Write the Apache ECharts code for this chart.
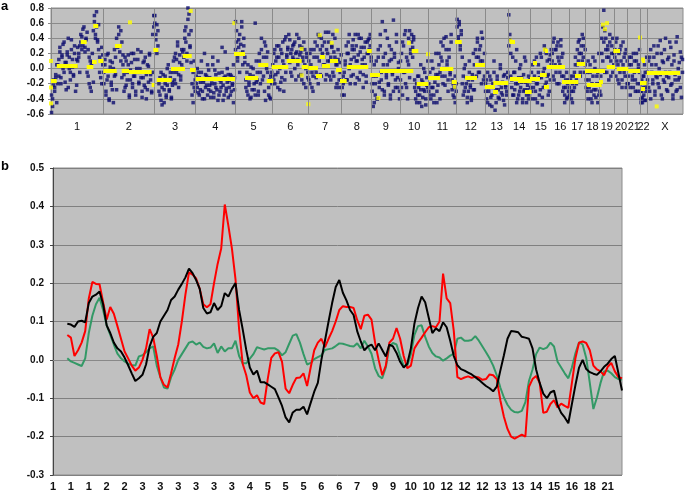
<!DOCTYPE html>
<html><head><meta charset="utf-8">
<script src="https://cdn.jsdelivr.net/npm/echarts@6/dist/echarts.min.js"></script>
<style>html,body{margin:0;padding:0;background:#fff}#c{width:685px;height:494px}</style>
</head><body><div id="c"></div>
<script>
// ---------- Panel a : array CGH probe ratios (hundredths), ordered along each chromosome ----------
const chromNames = ['1','2','3','4','5','6','7','8','9','10','11','12','13','14','15','16','17','18','19','20','21','22','X'];
const chromBounds = [0,52.3,103.3,144.7,184,221.3,257.3,290.7,320.7,349,377.3,405.7,434,457.3,479,500.7,518,534.7,548.3,563.3,576.7,589,596,632];
// probe set A
const c1 = [-58,-40,-22,-30,-12,-45,5,-10,22,-20,15,32,-5,8,-28,18,40,0,-15,25,12,-8,30,3,-22,10,20,-5,35,42,30,55,28,38,48,-10,15,-25,5,20,-18,62,45,75,38,58,15,-12,28,5];
const c2 = [-5,12,-30,-15,20,-40,2,-22,8,-45,-10,15,-28,30,45,22,50,35,18,-8,-25,10,-15,5,-35,-2,20,-20,-10,12,-30,-5,25,-18,0,-12,-38,8,-22,15,-8,-28,3,18,-15,-32,-5,70];
const c3 = [70,45,58,30,-20,-35,-5,-48,-15,-28,-10,-38,-22,5,-30,-12,-40,-18,10,-15,20,-5,35,-25,8,-10,25,0,15,40,55,20,80,72,30,50,-20,-45,10,-30];
const c4 = [-10,-25,-5,-35,-18,10,-30,-15,-40,-8,-22,5,-28,-12,-38,-20,15,-32,-2,-25,-14,-42,-6,-30,-18,28,-22,-35,-10,-26,0,-38,-16,-8,-30,-20,-45,-12];
const c5 = [62,35,10,28,45,20,62,5,30,15,-15,-30,5,-22,-8,-38,-12,0,-28,60,-18,-5,-35,10,-20,25,5,-10,35,-42,15,-5,-25,-38,-10,-20];
const c6 = [5,-15,25,-8,15,-25,30,0,-18,20,10,-30,38,-5,15,25,45,8,20,-10,30,12,35,-15,22,5,40,18,-8,28,10,-20,25,0,15,-12];
const c7 = [10,-20,25,-5,-30,15,0,-12,30,45,10,-8,40,20,5,35,-15,25,10,48,-10,15,30,-5,22,40,5,-20,12,-25,8,-15];
const c8 = [-25,-10,-35,5,-15,20,35,0,-20,12,30,-8,25,45,10,-12,18,40,-5,28,5,-25,15,35,-10,20,38,25,45,15];
const c9 = [-20,-50,5,-35,-10,-40,15,-25,30,-15,62,5,-30,20,-8,40,-20,10,-35,25,-5,64,15,-25,35,-12,8,-30];
const c10 = [10,-25,35,-5,45,-20,15,-40,5,50,20,35,28,42,-15,-30,-45,-10,-25,-35,5,-50,-18,-28,-5,-40,-22,10];
const c11 = [-20,-5,-35,10,-25,-45,-12,20,-30,-8,5,-40,15,-10,30,0,-22,42,10,-15,25,-5,35,-28,-20,-38,-10,-30];
const c12 = [65,42,58,30,50,15,-10,-30,5,-20,-38,-15,10,-25,-42,-8,20,-28,-12,15,35,-5,25,10,-20,40,5,-10];
const c13 = [-20,-40,-5,-30,-48,-15,-35,-25,10,-55,-28,-10,-38,-20,5,-32,-18,-42,-8,-25,-35,-12];
const c14 = [71,38,-10,-25,15,-35,-5,-20,25,-40,-12,-30,5,-18,-45,-8,-28,10,-35,-22,-40,-15];
const c15 = [-15,-30,5,-25,-10,-40,15,-20,-5,-35,20,-12,-48,-25,0,25,-18,10,-8,-30,18,5];
const c16 = [10,35,-15,25,-5,30,15,-20,5,38,-10,20,-25,-35,-15,-40,-20,-30];
const c17 = [-25,-10,-40,-20,-30,-5,15,-15,5,35,20,-10,30,10,40,-5,25];
const c18 = [-15,-30,10,-25,-5,-40,-20,15,-35,0,-28,-10,-45,20];
const c19 = [-20,-35,40,10,77,50,25,-5,30,15,35,-10,20,40,5];
const c20 = [25,35,10,-15,20,-5,30,-25,5,15,-10,25,-20];
const c21 = [-10,15,-25,5,-15,20,-5,-30,10,-20,0,25];
const c22 = [-20,-40,-30,-45,-10,-35,5,-25,-42,15];
const cX = [-5,-25,15,-40,5,-15,30,-30,-10,20,-20,0,37,-35,10,-15,25,-5,-28,12,-12,35,-22,5,-40,18,-8,-30,42,-15,8,-25,15,-5];
// probe set B
const d1 = [-35,-50,-15,-25,-8,5,-20,12,28,-12,18,0,35,-18,8,22,-25,15,-5,38,2,-10,20,-30,12,28,15,30,45,25,52,35,22,40,-5,25,-20,10,-30,8,50,70,40,55,35,25,-5,10,-20,18];
const d2 = [-20,5,-35,18,-10,-42,10,-18,-28,0,25,-8,40,28,55,30,10,-12,5,-30,15,-22,-5,18,-38,-15,8,-25,20,-10,-35,0,12,-20,-5,22,-30,-12,10,-25,-40,5,-18,20,-8,-30,45,55];
const d3 = [60,38,20,50,-30,-12,-42,-25,-8,-45,-20,-35,0,-15,-28,-5,-38,-22,-5,15,-20,12,30,-8,18,-15,5,22,25,50,35,10,65,45,28,8,-35,-5,-25,-15];
const d4 = [-20,0,-32,-12,-28,-5,-40,-18,20,-25,-10,-35,-2,-22,-30,-15,5,-38,-20,-8,-28,10,-35,-15,-25,-5,-42,-12,22,-30,-18,-8,-25,-35,-10,-22,5,-28];
const d5 = [25,50,15,38,-5,32,55,22,40,8,-25,-5,-35,-18,-40,2,-28,-10,-20,-35,10,-15,-30,20,-5,40,-15,15,-30,30,0,22,-35,-15,-40,-5];
const d6 = [-10,20,-20,10,30,-5,15,-28,25,-12,35,5,-15,42,18,28,10,38,-5,25,15,32,0,20,45,12,-10,30,22,-15,15,35,5,-25,20,-5];
const d7 = [-15,20,5,-25,-10,25,35,-5,15,-20,42,25,-10,30,15,5,48,-8,20,35,10,-15,28,45,-10,15,-25,5,25,-15,-5,18];
const d8 = [-35,-20,-5,10,30,-15,20,45,5,-10,25,38,15,-20,30,10,45,-15,22,40,12,-8,28,5,-18,35,20,40,30,10];
const d9 = [-30,-10,-45,-20,10,-40,25,-18,45,-5,-28,15,-35,50,-12,5,-22,30,-40,12,-8,-30,20,-15,45,-25,0,-40];
const d10 = [-15,20,-35,30,-5,50,-25,10,40,-12,25,45,15,38,-25,-40,-20,-35,-10,-45,-28,-15,-38,0,-30,-48,-12,-25];
const d11 = [-30,-12,-40,-25,0,-35,-18,-8,-45,-22,20,-5,35,10,-20,40,-10,25,5,-30,15,-8,45,-15,-35,-25,-45,-20];
const d12 = [55,38,62,25,45,-20,-35,0,-25,-12,-45,-30,-5,-22,-38,-15,-28,5,25,-10,40,15,-5,30,48,10,-15,20];
const d13 = [-30,-15,-45,-25,-10,-38,-50,-20,-5,-32,-45,-15,-28,-40,0,-25,-35,-10,-48,-22,-30,-5];
const d14 = [30,45,20,-15,-35,-5,-28,10,-45,-20,-35,0,-25,-12,-40,-30,15,-18,-45,-28,-10,-35];
const d15 = [-25,-5,-40,-15,10,-30,-20,-45,5,-12,-28,15,-38,-5,30,-22,20,-10,-35,12,-15,25];
const d16 = [20,-10,40,5,25,-20,35,10,-5,30,15,-30,-10,-45,-25,-5,-38,-15];
const d17 = [-35,-15,-30,-45,-10,-25,5,-20,25,10,38,-5,20,45,15,30,5];
const d18 = [-25,-5,-40,-15,5,-30,-45,-10,-28,10,-38,-20,-5,-35];
const d19 = [-30,-10,20,55,35,-5,40,15,25,-15,45,10,30,-5,20];
const d20 = [15,-10,40,5,-20,25,10,-15,35,-5,20,-25,10];
const d21 = [-20,5,-35,15,-10,-25,10,-15,20,-30,5,-5];
const d22 = [-30,-45,-15,-38,-25,-10,-42,-5,-30,-20];
const dX = [-15,10,-30,25,-5,-20,15,-35,5,-12,30,-25,-8,20,-40,8,-18,40,-10,-30,15,-5,28,-20,-35,10,-15,35,-28,0,-12,22,-38,12];
const probeSetA = [c1,c2,c3,c4,c5,c6,c7,c8,c9,c10,c11,c12,c13,c14,c15,c16,c17,c18,c19,c20,c21,c22,cX];
const probeSetB = [d1,d2,d3,d4,d5,d6,d7,d8,d9,d10,d11,d12,d13,d14,d15,d16,d17,d18,d19,d20,d21,d22,dX];

// segmentation means (yellow)
const segStart = [0,5.7,29.7,35.7,41,42.3,47.3,52.3,64,70.7,78,100.7,102.3,105.7,120,131.7,139,144.7,183,194,207.3,215.7,220.7,235.7,250.7,257.3,265,269,271,279,285,289,295.7,315.7,319,329,360.7,365.7,377.3,389,400.7,404,414,424,434,442.3,442,459,459,467,474,479,482,489,493,494,495.7,511,524,525.7,534,535.7,548,555.7,562.3,565.7,577.3,589,591,590,595.7];
const segEnd   = [5.7,26.7,35.7,42.3,45.7,47.3,52.3,65.7,70.7,78,100.7,103.3,107.3,120.7,134,140.7,144.7,184,194,207.3,217.3,222.3,237.3,250.7,257.3,267,271,274,279,287,290.7,295.7,317.3,320.7,329,362.3,367.3,377.3,389,402.3,405.7,410.7,426,434,444,457.3,447,464,472.3,480.7,480.7,489,486,495.7,498,497,514,527.3,530,534,554,550.7,552,564,569,577.3,589,595.7,594,594,629];
const segMean  = [-0.16,0.04,0.35,0.02,0.09,0.565,0.097,-0.03,0.305,-0.03,-0.045,-0.22,0.25,-0.145,0.0,0.17,-0.013,-0.137,0.2,-0.125,0.045,-0.155,0.022,0.106,0.03,0.01,-0.1,0.15,0.04,0.1,-0.02,-0.155,0.03,0.24,-0.08,-0.026,0.23,-0.2,-0.124,0.0,-0.17,0.36,-0.124,0.045,-0.24,-0.19,-0.3,0.35,-0.13,-0.155,-0.3,-0.13,0.08,-0.08,-0.24,0.23,0.02,-0.18,-0.09,0.066,-0.035,-0.21,-0.17,0.022,0.24,0.0,-0.035,-0.19,0.1,-0.27,-0.057];
const yelPtX = [0,0,0,79,139.7,183.3,250.7,250.7,257.3,268.7,280.7,285.7,327.3,358,377,404,459,494,552,554,556,589,605.7,592];
const yelPtY = [0.1,-0.25,-0.46,0.61,0.76,0.6,0.26,-0.09,-0.47,0.44,0.34,0.5,-0.39,0.34,0.19,-0.24,0.37,0.25,0.58,0.52,0.6,0.41,-0.5,0.12];

// ---------- Panel b : smoothed profiles ----------
const tickLabels = ['1','1','1','2','2','3','3','3','3','3','3','4','5','5','5','6','6','7','9','9','10','10','12','12','12','13','13','14','15','16','18','21'];
const sampleOffset = 4;
const blackVals = [.094,.092,.086,.1,.102,.098,.148,.165,.17,.178,
.145,.09,.07,.045,.03,.022,.006,-.014,-.035,-.055,
-.048,-.039,-.012,.035,.06,.07,.1,.115,.13,.156,
.165,.183,.198,.215,.238,.226,.208,.185,.135,.121,
.124,.148,.13,.14,.174,.165,.185,.2,.13,.08,
.026,-.02,-.038,-.028,-.058,-.058,-.064,-.07,-.076,-.098,
-.12,-.15,-.163,-.137,-.13,-.13,-.122,-.142,-.112,-.083,
-.06,0,.05,.1,.148,.19,.208,.175,.155,.13,
.117,.075,.048,.025,.035,.04,.025,.043,.026,.009,
.04,.035,.018,-.005,-.02,-.01,.03,.095,.135,.165,
.15,.11,.07,.082,.075,.098,.085,.05,.01,-.014,
-.024,-.028,-.033,-.038,-.045,-.052,-.06,-.068,-.074,-.082,
-.07,-.028,.012,.055,.075,.074,.072,.06,.058,.055,
.03,-.025,-.06,-.088,-.1,-.085,-.08,-.118,-.138,-.15,
-.165,-.115,-.065,-.02,0,-.024,-.032,-.036,-.039,-.03,
-.018,-.01,.002,.01,-.035,-.08];
const redVals = [.065,.058,.01,.025,.045,.075,.16,.203,.198,.197,
.15,.105,.138,.12,.088,.055,.022,.004,-.015,-.028,
-.02,0,.03,.08,.058,.01,-.045,-.065,-.072,-.035,
.005,.04,.1,.17,.228,.222,.212,.185,.145,.137,
.145,.2,.25,.29,.405,.35,.29,.21,.08,-.01,
-.04,-.085,-.1,-.092,-.111,-.115,-.05,.005,.017,.02,
-.005,-.075,-.087,-.065,-.047,-.046,-.035,-.068,-.02,.025,
.045,.055,.033,.055,.075,.1,.13,.14,.138,.138,
.135,.104,.08,.115,.118,.105,.045,0,-.04,-.015,
.045,.055,.083,.055,.01,-.022,-.015,.03,.045,.058,
.072,.085,.088,.085,.1,.225,.16,.148,.075,-.045,
-.05,-.046,-.043,-.047,-.044,-.046,-.052,-.05,-.038,-.04,
-.05,-.105,-.148,-.18,-.2,-.205,-.2,-.195,-.2,-.07,
-.05,-.042,-.06,-.138,-.135,-.115,-.105,-.124,-.114,-.12,
-.125,-.06,.005,.045,.048,.044,.025,-.015,-.025,-.03,
-.04,-.018,-.008,-.03,-.045,-.048];
const greenVals = [.004,-.004,-.008,-.012,-.016,.004,.07,.115,.145,.162,
.13,.09,.065,.04,.016,.004,-.004,-.01,-.013,-.015,
.009,.012,.02,.03,.035,-.015,-.045,-.072,-.075,-.045,
-.025,0,.015,.03,.045,.048,.04,.045,.034,.03,
.032,.043,.018,.035,.022,.03,.03,.05,.01,-.009,
-.009,.003,.015,.033,.03,.027,.03,.03,.03,.024,
.012,.02,.042,.063,.067,.045,.015,-.012,-.008,.002,
.007,.012,.026,.028,.03,.036,.043,.042,.039,.036,
.035,.043,.03,.05,.035,.016,-.022,-.042,-.048,-.02,
.035,.044,.04,.01,-.016,-.015,.015,.065,.088,.09,
.06,.035,.018,.009,.006,-.002,.004,.011,.016,.055,
.058,.05,.05,.052,.062,.05,.035,.02,.004,-.015,
-.04,-.072,-.098,-.117,-.13,-.136,-.137,-.133,-.11,-.055,
-.025,.015,.032,.028,.032,.045,.035,-.005,-.02,-.035,
-.048,-.02,.018,.046,.04,.005,-.06,-.128,-.098,-.06,
-.03,-.028,-.035,-.045,-.05,-.052];

// ---------- build ----------
const FONT = 'Liberation Sans, Arial, sans-serif';
const probeData = [];
[probeSetA, probeSetB].forEach(set => set.forEach((vals, k) => {
  const s = chromBounds[k], w = chromBounds[k + 1] - s, n = vals.length;
  vals.forEach((v, j) => probeData.push([s + (j + 0.5) * w / n, v / 100]));
}));
const chromMids = chromNames.map((_, k) => (chromBounds[k] + chromBounds[k + 1]) / 2);
const segLines = segStart.map((s, i) => [{coord: [s, segMean[i]]}, {coord: [segEnd[i], segMean[i]]}]);
const toXY = vals => vals.map((v, i) => [i + sampleOffset, v]);

const chart = echarts.init(document.getElementById('c'), null, {renderer: 'canvas'});
chart.setOption({
  animation: false,
  backgroundColor: '#ffffff',
  textStyle: {fontFamily: FONT},
  graphic: [
    {type: 'text', left: 1, top: 0, style: {text: 'a', font: 'bold 13px ' + FONT, fill: '#000'}},
    {type: 'text', left: 1, top: 160, style: {text: 'b', font: 'bold 13px ' + FONT, fill: '#000'}}
  ],
  grid: [
    {left: 51, top: 8, width: 632, height: 106, show: true, backgroundColor: '#c0c0c0', borderColor: '#8c8c8c', borderWidth: 1},
    {left: 53, top: 168, width: 569, height: 307, show: true, backgroundColor: '#c0c0c0', borderColor: '#8c8c8c', borderWidth: 1}
  ],
  xAxis: [
    {gridIndex: 0, type: 'value', min: 0, max: 632,
     axisLine: {show: false}, axisTick: {show: false}, splitLine: {show: false},
     axisLabel: {customValues: chromMids, formatter: v => chromNames[chromMids.indexOf(v)] || '',
                 fontSize: 11, color: '#111', margin: 7, fontFamily: FONT}},
    {gridIndex: 1, type: 'value', min: 0, max: 159, interval: 5,
     axisLine: {show: true, lineStyle: {color: '#888'}}, axisTick: {show: false}, splitLine: {show: false},
     axisLabel: {formatter: v => (v % 5 === 0 && tickLabels[v / 5] !== undefined) ? tickLabels[v / 5] : '',
                 fontSize: 11, fontWeight: 'bold', color: '#111', margin: 6, fontFamily: FONT}}
  ],
  yAxis: [
    {gridIndex: 0, type: 'value', min: -0.6, max: 0.8, interval: 0.2,
     axisLine: {show: true, lineStyle: {color: '#888'}}, axisTick: {show: true, length: 3, lineStyle: {color: '#888'}},
     splitLine: {show: true, lineStyle: {color: '#8a8a8a', width: 1}},
     axisLabel: {formatter: v => v.toFixed(1), fontSize: 10, fontWeight: 'bold', color: '#111', margin: 7, fontFamily: FONT}},
    {gridIndex: 1, type: 'value', min: -0.3, max: 0.5, interval: 0.1,
     axisLine: {show: true, lineStyle: {color: '#444'}}, axisTick: {show: true, length: 3, lineStyle: {color: '#444'}},
     splitLine: {show: true, lineStyle: {color: '#808080', width: 1}},
     axisLabel: {formatter: v => v.toFixed(1), fontSize: 10, fontWeight: 'bold', color: '#111', margin: 9, fontFamily: FONT}}
  ],
  series: [
    {type: 'line', xAxisIndex: 0, yAxisIndex: 0, data: [], z: 1, silent: true,
     markLine: {silent: true, symbol: ['none', 'none'], label: {show: false},
                lineStyle: {color: '#8a8a8a', width: 1, type: 'solid'},
                data: chromBounds.slice(1, -1).map(v => ({xAxis: v}))}},
    {type: 'scatter', xAxisIndex: 0, yAxisIndex: 0, data: probeData, symbol: 'rect', symbolSize: 3.5,
     itemStyle: {color: '#0c0c6e'}, z: 2, silent: true},
    {type: 'line', xAxisIndex: 0, yAxisIndex: 0, data: [], z: 3, silent: true,
     markLine: {silent: true, symbol: ['none', 'none'], label: {show: false},
                lineStyle: {color: '#ffff00', width: 4, type: 'solid', opacity: 1},
                data: segLines}},
    {type: 'scatter', xAxisIndex: 0, yAxisIndex: 0, data: yelPtX.map((x, i) => [x, yelPtY[i]]),
     symbol: 'rect', symbolSize: 4, itemStyle: {color: '#ffff00'}, z: 4, silent: true},
    {type: 'line', xAxisIndex: 1, yAxisIndex: 1, data: toXY(greenVals), showSymbol: false,
     lineStyle: {color: '#339966', width: 2}, z: 5, silent: true},
    {type: 'line', xAxisIndex: 1, yAxisIndex: 1, data: toXY(redVals), showSymbol: false,
     lineStyle: {color: '#ff0000', width: 2}, z: 6, silent: true},
    {type: 'line', xAxisIndex: 1, yAxisIndex: 1, data: toXY(blackVals), showSymbol: false,
     lineStyle: {color: '#000000', width: 2}, z: 7, silent: true}
  ]
});
</script>
</body></html>
